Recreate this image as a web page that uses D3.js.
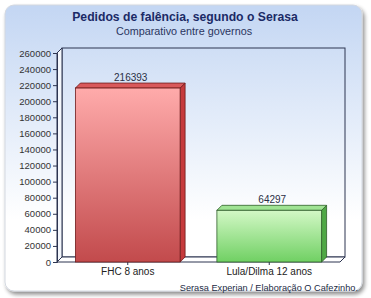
<!DOCTYPE html>
<html>
<head>
<meta charset="utf-8">
<script src="https://cdn.jsdelivr.net/npm/d3@7"></script>
<style>
  html, body { margin: 0; padding: 0; background: #ffffff; }
  svg { display: block; }
  text { font-family: "Liberation Sans", Arial, sans-serif; }
</style>
</head>
<body>
<svg id="chart" width="371" height="298"></svg>
<script>
// Chart data
const title = "Pedidos de falência, segundo o Serasa";
const subtitle = "Comparativo entre governos";
const credit = "Serasa Experian / Elaboração O Cafezinho.";
const categories = ["FHC 8 anos", "Lula/Dilma 12 anos"];
const values = [216393, 64297];
const yTicks = [0, 20000, 40000, 60000, 80000, 100000, 120000, 140000, 160000, 180000, 200000, 220000, 240000, 260000];

const W = 371, H = 298;
const depth = 5; // 3D offset of the walls and bars
const plot = { left: 57, right: 340, top: 53, bottom: 262 };

const svg = d3.select("#chart");
const defs = svg.append("defs");

// Panel background gradient
const bg = defs.append("linearGradient").attr("id", "bg").attr("x1", 0).attr("y1", 0).attr("x2", 0).attr("y2", 1);
bg.append("stop").attr("offset", "0%").attr("stop-color", "#c3d6f3");
bg.append("stop").attr("offset", "75%").attr("stop-color", "#ffffff");
bg.append("stop").attr("offset", "100%").attr("stop-color", "#ffffff");

const shadow = defs.append("filter").attr("id", "shadow").attr("x", "-5%").attr("y", "-5%").attr("width", "115%").attr("height", "115%");
shadow.append("feGaussianBlur").attr("in", "SourceAlpha").attr("stdDeviation", 2);
shadow.append("feOffset").attr("dx", 2).attr("dy", 3).attr("result", "ob");
shadow.append("feComponentTransfer").append("feFuncA").attr("type", "linear").attr("slope", 0.45);
const merge = shadow.append("feMerge");
merge.append("feMergeNode");
merge.append("feMergeNode").attr("in", "SourceGraphic");

// Bar gradients
const barStyles = [
  { id: "gRed", top: "#ffabab", bottom: "#c24a4c", side: "#c63a3c", topFace: "#d9595b", edge: "#6e1c1c" },
  { id: "gGreen", top: "#d3f8c6", bottom: "#70d063", side: "#4fa845", topFace: "#9fe393", edge: "#2f5e2a" }
];
barStyles.forEach(s => {
  const g = defs.append("linearGradient").attr("id", s.id).attr("x1", 0).attr("y1", 0).attr("x2", 0).attr("y2", 1);
  g.append("stop").attr("offset", "0%").attr("stop-color", s.top);
  g.append("stop").attr("offset", "100%").attr("stop-color", s.bottom);
});

// Panel
svg.append("rect")
  .attr("x", 5).attr("y", 5).attr("width", 357).attr("height", 286)
  .attr("rx", 9).attr("ry", 9)
  .attr("fill", "url(#bg)")
  .attr("stroke", "#d3d8e0").attr("stroke-width", 1)
  .attr("filter", "url(#shadow)");

// Titles
svg.append("text").attr("x", 185).attr("y", 21).attr("text-anchor", "middle")
  .attr("font-size", 12.2).attr("font-weight", "bold").attr("fill", "#1b2a66").text(title);
svg.append("text").attr("x", 184).attr("y", 35).attr("text-anchor", "middle")
  .attr("font-size", 10.8).attr("fill", "#2a3560").text(subtitle);

// Scales
const y = d3.scaleLinear().domain([0, 260000]).range([plot.bottom, plot.top]);
const x = d3.scaleBand().domain(categories).range([plot.left, plot.right]).padding(0);
const barW = x.bandwidth() * 0.74;

const line = "#2c3450";

// Back wall
svg.append("rect")
  .attr("x", plot.left + depth).attr("y", plot.top - depth)
  .attr("width", plot.right - plot.left).attr("height", plot.bottom - plot.top)
  .attr("fill", "none").attr("stroke", line).attr("stroke-width", 1);

// Left wall
svg.append("path")
  .attr("d", `M${plot.left},${plot.top} L${plot.left + depth},${plot.top - depth} L${plot.left + depth},${plot.bottom - depth} L${plot.left},${plot.bottom} Z`)
  .attr("fill", "#f4f7fc").attr("stroke", line).attr("stroke-width", 1);

// Floor
svg.append("path")
  .attr("d", `M${plot.left},${plot.bottom} L${plot.left + depth},${plot.bottom - depth} L${plot.right + depth},${plot.bottom - depth} L${plot.right},${plot.bottom} Z`)
  .attr("fill", "#ffffff").attr("stroke", line).attr("stroke-width", 1);

// Y axis
const yAxis = d3.axisLeft(y).tickValues(yTicks).tickSize(4).tickPadding(2).tickFormat(d3.format("d"));
const ya = svg.append("g").attr("transform", `translate(${plot.left},0)`).call(yAxis);
ya.select(".domain").attr("stroke", line);
ya.selectAll(".tick line").attr("stroke", line);
ya.selectAll(".tick text").attr("font-size", 9.5).attr("fill", "#333333")
  .attr("font-family", "'Liberation Sans', Arial, sans-serif");

// X axis
const xAxis = d3.axisBottom(x).tickSize(3).tickPadding(3);
const xa = svg.append("g").attr("transform", `translate(0,${plot.bottom})`).call(xAxis);
xa.select(".domain").remove();
xa.selectAll(".tick line").attr("stroke", line);
xa.selectAll(".tick text").attr("font-size", 10).attr("fill", "#222222")
  .attr("font-family", "'Liberation Sans', Arial, sans-serif");

// Bars
const bars = svg.append("g").selectAll("g").data(categories).join("g");
bars.each(function (c, i) {
  const g = d3.select(this);
  const s = barStyles[i];
  const x0 = x(c) + (x.bandwidth() - barW) / 2;
  const x1 = x0 + barW;
  const yt = y(values[i]);
  const yb = y(0);
  // side face
  g.append("path")
    .attr("d", `M${x1},${yt} L${x1 + depth},${yt - depth} L${x1 + depth},${yb - depth} L${x1},${yb} Z`)
    .attr("fill", s.side).attr("stroke", s.edge).attr("stroke-width", 0.8);
  // top face
  g.append("path")
    .attr("d", `M${x0},${yt} L${x0 + depth},${yt - depth} L${x1 + depth},${yt - depth} L${x1},${yt} Z`)
    .attr("fill", s.topFace).attr("stroke", s.edge).attr("stroke-width", 0.8);
  // front face
  g.append("rect")
    .attr("x", x0).attr("y", yt).attr("width", barW).attr("height", yb - yt)
    .attr("fill", `url(#${s.id})`).attr("stroke", s.edge).attr("stroke-width", 0.8);
  // value label
  g.append("text")
    .attr("x", (x0 + x1) / 2 + 3).attr("y", yt - 7)
    .attr("text-anchor", "middle").attr("font-size", 10).attr("fill", "#2a2f45")
    .text(values[i]);
});

// Credit
svg.append("text").attr("x", 358).attr("y", 291).attr("text-anchor", "end")
  .attr("font-size", 9.2).attr("fill", "#222a44").text(credit);
</script>
</body>
</html>
